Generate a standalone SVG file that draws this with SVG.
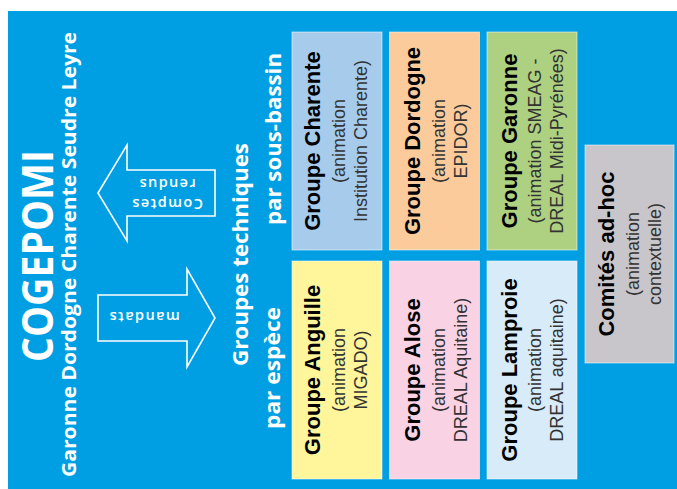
<svg xmlns="http://www.w3.org/2000/svg" width="677" height="489" viewBox="0 0 677 489">
<style>
.bg{fill:#009FE3}
.box{stroke:#ffffff;stroke-opacity:0.55;stroke-width:1}
.w{fill:#ffffff;font-family:"Open Sans","DejaVu Sans",sans-serif;font-weight:700}
.arr{fill:none;stroke:#ffffff;stroke-width:1.6;stroke-linejoin:miter}
.at{fill:#ffffff;font-family:"Open Sans","DejaVu Sans",sans-serif;font-weight:600;font-size:14.5px;letter-spacing:1.4px;text-anchor:middle}
.t{font-family:"Liberation Sans",Arial,sans-serif;text-anchor:middle}
.h{font-weight:700;font-size:22px;fill:#000000}
.s{font-size:18px;fill:#333333}
</style>
<rect class="bg" x="8" y="11" width="669" height="478"/>

<g id="cogepomi">
<text class="w" transform="translate(53,256) rotate(-90)" text-anchor="middle" font-size="43" textLength="212" lengthAdjust="spacingAndGlyphs">COGEPOMI</text>
<text class="w" transform="translate(76,254.5) rotate(-90)" text-anchor="middle" font-size="20" textLength="445" lengthAdjust="spacingAndGlyphs">Garonne Dordogne Charente Seudre Leyre</text>
</g>

<g id="groupes-techniques">
<text class="w" transform="translate(248,254.5) rotate(-90)" text-anchor="middle" font-size="22" textLength="223" lengthAdjust="spacingAndGlyphs">Groupes techniques</text>
<text class="w" transform="translate(280.5,139) rotate(-90)" text-anchor="middle" font-size="22" textLength="172" lengthAdjust="spacingAndGlyphs">par sous-bassin</text>
<text class="w" transform="translate(280,368) rotate(-90)" text-anchor="middle" font-size="22" textLength="122" lengthAdjust="spacingAndGlyphs">par espèce</text>
</g>

<g id="connectors">
<g id="arrow-comptes-rendus">
<polygon class="arr" points="98,193 127,145 127,170 215,170 215,216 127,216 127,241"/>
<text class="at" transform="translate(167,193) rotate(180)"><tspan x="0" y="-6">Comptes</tspan><tspan x="0" y="14">rendus</tspan></text>
</g>
<g id="arrow-mandats">
<polygon class="arr" points="98,295 187,295 187,269 215,318 187,367 187,341 98,341"/>
<text class="at" transform="translate(144,312) rotate(180)">mandats</text>
</g>
</g>

<g id="groupe-charente">
<rect class="box" x="292" y="32" width="90" height="218" fill="#A6CBEB"/>
<g class="t" transform="translate(0,141) rotate(-90)">
<text class="h" x="0" y="320">Groupe Charente</text>
<text class="s" x="0" y="345">(animation</text>
<text class="s" x="0" y="367">Institution Charente)</text>
</g>
</g>

<g id="groupe-dordogne">
<rect class="box" x="389.5" y="32" width="90" height="218" fill="#FBCB9C"/>
<g class="t" transform="translate(0,141) rotate(-90)">
<text class="h" x="0" y="420">Groupe Dordogne</text>
<text class="s" x="0" y="445">(animation</text>
<text class="s" x="0" y="467">EPIDOR)</text>
</g>
</g>

<g id="groupe-garonne">
<rect class="box" x="487" y="32" width="90" height="218" fill="#AED081"/>
<g class="t" transform="translate(0,141) rotate(-90)">
<text class="h" x="0" y="516.5">Groupe Garonne</text>
<text class="s" x="0" y="541">(animation SMEAG -</text>
<text class="s" x="0" y="563">DREAL Midi-Pyrénées)</text>
</g>
</g>

<g id="groupe-anguille">
<rect class="box" x="292" y="261" width="90" height="218" fill="#FFF59B"/>
<g class="t" transform="translate(0,370) rotate(-90)">
<text class="h" x="0" y="320">Groupe Anguille</text>
<text class="s" x="0" y="345">(animation</text>
<text class="s" x="0" y="367">MIGADO)</text>
</g>
</g>

<g id="groupe-alose">
<rect class="box" x="389.5" y="261" width="90" height="218" fill="#F9D2E4"/>
<g class="t" transform="translate(0,370) rotate(-90)">
<text class="h" x="0" y="420">Groupe Alose</text>
<text class="s" x="0" y="445">(animation</text>
<text class="s" x="0" y="467">DREAL Aquitaine)</text>
</g>
</g>

<g id="groupe-lamproie">
<rect class="box" x="487" y="261" width="90" height="218" fill="#D7EBF9"/>
<g class="t" transform="translate(0,370) rotate(-90)">
<text class="h" x="0" y="516.5">Groupe Lamproie</text>
<text class="s" x="0" y="541">(animation</text>
<text class="s" x="0" y="563">DREAL aquitaine)</text>
</g>
</g>

<g id="comites-ad-hoc">
<rect class="box" x="585" y="145" width="89" height="218" fill="#C8C6CA"/>
<g class="t" transform="translate(0,254) rotate(-90)">
<text class="h" x="0" y="614">Comités ad-hoc</text>
<text class="s" x="0" y="639">(animation</text>
<text class="s" x="0" y="661">contextuelle)</text>
</g>
</g>
</svg>
